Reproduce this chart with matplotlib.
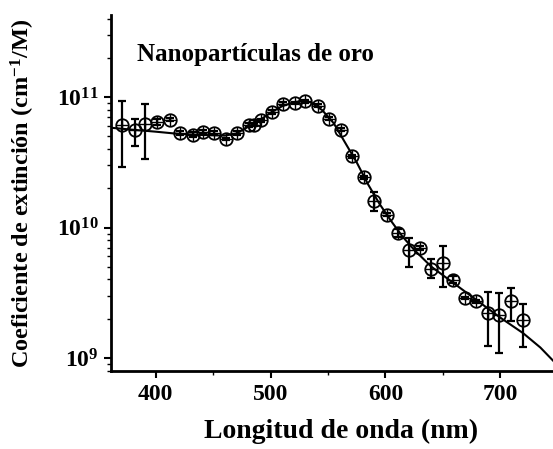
import numpy as np
import matplotlib
matplotlib.use('Agg')
import matplotlib.pyplot as plt
from matplotlib.ticker import LogLocator, NullFormatter, FixedLocator

plt.rcParams['font.family'] = 'Liberation Serif'
plt.rcParams['font.weight'] = 'bold'
plt.rcParams['mathtext.fontset'] = 'custom'
plt.rcParams['mathtext.rm'] = 'Liberation Serif:bold'
plt.rcParams['mathtext.it'] = 'Liberation Serif:bold'
plt.rcParams['mathtext.bf'] = 'Liberation Serif:bold'

# datos medidos (longitud de onda en nm, coeficiente en M^-1 cm^-1)
longitud = [371, 382, 391, 401, 412, 421, 432, 441, 451, 461, 471, 481, 486, 492,
            501, 511, 521, 530, 541, 551, 561, 571, 581, 590, 601, 611, 621, 630,
            640, 650, 659, 669, 679, 689, 699, 709, 720]
log_coef = [10.79, 10.745, 10.797, 10.81, 10.827, 10.725, 10.712, 10.73, 10.725, 10.679,
            10.725, 10.784, 10.789, 10.822, 10.886, 10.95, 10.955, 10.968, 10.935, 10.835,
            10.75, 10.546, 10.385, 10.2, 10.098, 9.958, 9.83, 9.843, 9.683, 9.727,
            9.6, 9.459, 9.433, 9.348, 9.33, 9.44, 9.292]
log_err_sup = [10.968, 10.833, 10.95, 10.83, 10.84, 10.74, 10.73, 10.745, 10.74, 10.69,
               10.74, 10.8, 10.8, 10.835, 10.9, 10.96, 10.965, 10.978, 10.945, 10.845,
               10.76, 10.556, 10.395, 10.27, 10.108, 9.985, 9.92, 9.855, 9.76, 9.855,
               9.625, 9.469, 9.443, 9.505, 9.50, 9.54, 9.41]
log_err_inf = [10.464, 10.622, 10.526, 10.79, 10.815, 10.71, 10.695, 10.715, 10.71, 10.67,
               10.71, 10.77, 10.778, 10.81, 10.872, 10.94, 10.945, 10.958, 10.925, 10.825,
               10.74, 10.536, 10.375, 10.129, 10.088, 9.93, 9.70, 9.831, 9.61, 9.544,
               9.575, 9.449, 9.423, 9.095, 9.037, 9.28, 9.083]

# curva ajustada
ajuste_x = [361, 380, 400, 420, 440, 460, 470, 480, 490, 500, 510, 520, 527, 535, 545,
            555, 565, 575, 585, 595, 605, 615, 625, 640, 660, 680, 700, 720, 735, 746]
ajuste_log = [10.765, 10.75, 10.735, 10.718, 10.71, 10.705, 10.72, 10.77, 10.82, 10.88,
              10.93, 10.96, 10.97, 10.96, 10.9, 10.8, 10.65, 10.5, 10.33, 10.18, 10.05,
              9.93, 9.83, 9.7, 9.57, 9.44, 9.31, 9.19, 9.08, 8.98]

y = 10 ** np.array(log_coef)
err_sup = 10 ** np.array(log_err_sup) - y
err_inf = y - 10 ** np.array(log_err_inf)

fig = plt.figure(figsize=(5.53, 4.49), dpi=100)
ax = fig.add_axes([0.2007, 0.1737, 0.7993, 0.793])

ax.plot(ajuste_x, 10 ** np.array(ajuste_log), color='black', lw=1.5, zorder=2)
ax.errorbar(longitud, y, yerr=[err_inf, err_sup], fmt='none', ecolor='black',
            elinewidth=1.6, capsize=3, capthick=1.6, zorder=3)
ax.plot(longitud, y, 'o', ms=9, mfc='none', mec='black', mew=1.3, zorder=4)
ax.plot(longitud, y, '+', ms=9, mec='black', mew=1.0, zorder=4)

ax.set_yscale('log')
ax.set_xlim(361, 746)
ax.set_ylim(10 ** 8.9, 10 ** 11.63)

ax.xaxis.set_major_locator(FixedLocator([400, 500, 600, 700]))
ax.xaxis.set_minor_locator(FixedLocator([450, 550, 650]))
ax.yaxis.set_major_locator(FixedLocator([1e9, 1e10, 1e11]))
ax.set_yticklabels([r'$10^{9}$', r'$10^{10}$', r'$10^{11}$'])
ax.yaxis.set_minor_locator(LogLocator(base=10, subs=np.arange(2, 10)))
ax.yaxis.set_minor_formatter(NullFormatter())

for s in ['top', 'right']:
    ax.spines[s].set_visible(False)
for s in ['left', 'bottom']:
    ax.spines[s].set_linewidth(2)

ax.tick_params(axis='both', which='major', direction='out', length=5, width=1.5,
               labelsize=17, pad=4)
ax.tick_params(axis='both', which='minor', direction='out', length=3, width=1)

ax.set_xlabel('Longitud de onda (nm)', fontsize=20, fontweight='bold')
ax.xaxis.set_label_coords(0.52, -0.135)
ax.set_ylabel(r'Coeficiente de extinción (cm$^{-1}$/M)', fontsize=17.5, fontweight='bold',
              labelpad=14)
ax.text(0.059, 0.888, 'Nanopartículas de oro', transform=ax.transAxes, fontsize=18,
        fontweight='bold', ha='left', va='center')

fig.savefig('out.png', dpi=100)
